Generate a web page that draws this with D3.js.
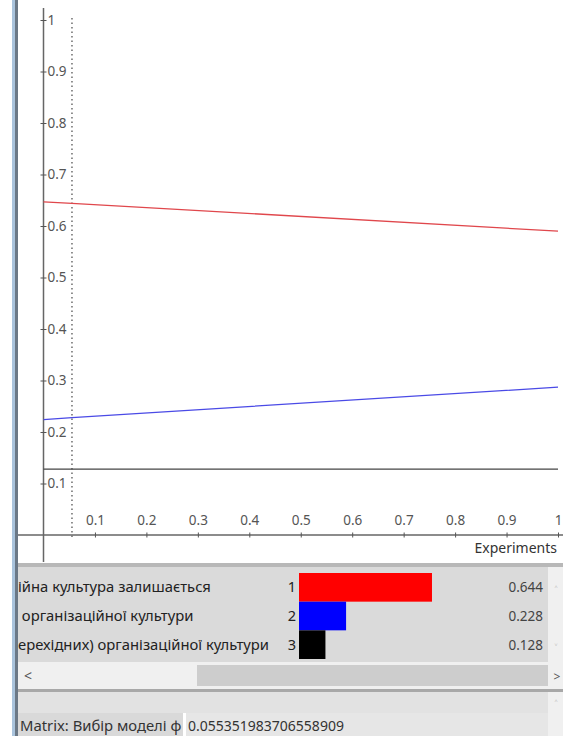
<!DOCTYPE html>
<html><head><meta charset="utf-8">
<script src="https://cdn.jsdelivr.net/npm/d3@7"></script>
<style>html,body{margin:0;padding:0;background:#fff;overflow:hidden}svg{display:block}</style>
</head><body>
<svg id="c" width="563" height="736"></svg>
<script>
// ---- data ----
const lineX = [0, 0.0553519837, 1];
const redSeries = [0.647, 0.644, 0.590];
const blueSeries = [0.224, 0.228, 0.287];
const blackSeries = [0.128, 0.128, 0.128];
const xTicks = [0.1, 0.2, 0.3, 0.4, 0.5, 0.6, 0.7, 0.8, 0.9, 1];
const xTickLabels = ["0.1","0.2","0.3","0.4","0.5","0.6","0.7","0.8","0.9","1"];
const yTicks = [0.1, 0.2, 0.3, 0.4, 0.5, 0.6, 0.7, 0.8, 0.9, 1];
const yTickLabels = ["0.1","0.2","0.3","0.4","0.5","0.6","0.7","0.8","0.9","1"];
const currentX = 0.0553519837;
const categories = ["ійна культура залишається", " організаційної культури", "ерехідних) організаційної культури"];
const ranks = ["1", "2", "3"];
const values = [0.644, 0.228, 0.128];
const valueLabels = ["0.644", "0.228", "0.128"];
const barColors = ["#ff0000", "#0000ff", "#000000"];
const matrixLabel = "Matrix: Вибір моделі ф";
const matrixValue = "0.055351983706558909";

// ---- drawing ----
const svg = d3.select("#c");
const FONT = "'Noto Sans', 'Open Sans', sans-serif";

svg.append("rect").attr("x",0).attr("y",0).attr("width",563).attr("height",736).attr("fill","#fff");

const x = d3.scaleLinear().domain([0,1]).range([43.5, 558]);
const y = d3.scaleLinear().domain([0,1]).range([535, 20]);

// dotted current line
svg.append("line").attr("x1",x(currentX)).attr("x2",x(currentX)).attr("y1",18).attr("y2",540)
  .attr("stroke","#555").attr("stroke-width",1.3).attr("stroke-dasharray","1.5,3");

// axis lines
svg.append("line").attr("x1",x(0)).attr("x2",x(0)).attr("y1",8).attr("y2",562).attr("stroke","#666").attr("stroke-width",1.5);
svg.append("line").attr("x1",17).attr("x2",563).attr("y1",y(0)).attr("y2",y(0)).attr("stroke","#666").attr("stroke-width",1.5);

// y axis
const yAxis = svg.append("g").attr("transform",`translate(${x(0)},0)`)
  .call(d3.axisRight(y).tickValues(yTicks).tickFormat((d,i)=>yTickLabels[i]).tickSize(3).tickPadding(1));
yAxis.select(".domain").remove();
yAxis.selectAll(".tick line").attr("x1",-3).attr("x2",3).attr("stroke","#555");
yAxis.selectAll(".tick text").attr("font-family",FONT).attr("font-size",13.5).attr("fill","#555");

// x axis (labels above axis)
const xAxis = svg.append("g").attr("transform",`translate(0,${y(0)})`)
  .call(d3.axisTop(x).tickValues(xTicks).tickFormat((d,i)=>xTickLabels[i]).tickSize(3).tickPadding(7));
xAxis.select(".domain").remove();
xAxis.selectAll(".tick line").attr("y1",-2.5).attr("y2",2.5).attr("stroke","#555");
xAxis.selectAll(".tick text").attr("font-family",FONT).attr("font-size",13.5).attr("fill","#555");

svg.append("text").attr("x",557).attr("y",553).attr("text-anchor","end")
  .attr("font-family",FONT).attr("font-size",14).attr("fill","#333").text("Experiments");

// series lines
const line = d3.line().x((d,i)=>x(lineX[i])).y(d=>y(d));
[[redSeries,"#e0474c"],[blueSeries,"#4a4ae6"],[blackSeries,"#444"]].forEach(([s,c])=>{
  svg.append("path").datum(s).attr("d",line).attr("fill","none").attr("stroke",c).attr("stroke-width",1.3);
});

// ---- lower panels ----
svg.append("rect").attr("x",18).attr("y",563).attr("width",545).attr("height",4).attr("fill","#b8b8b8");
svg.append("rect").attr("x",18).attr("y",567).attr("width",530).attr("height",95).attr("fill","#dadada");
svg.append("rect").attr("x",548).attr("y",567).attr("width",15).attr("height",95).attr("fill","#f0f0f0");
svg.append("text").attr("x",556).attr("y",594).attr("text-anchor","middle").attr("font-family",FONT).attr("font-size",11).attr("fill","#bbb").text("˄");
svg.append("text").attr("x",556).attr("y",652).attr("text-anchor","middle").attr("font-family",FONT).attr("font-size",11).attr("fill","#bbb").text("˅");

const rowY = d3.scaleBand().domain(d3.range(categories.length)).range([573, 659]);
const barX = d3.scaleLinear().domain([0,1]).range([299, 505.5]);
const rows = svg.append("g");
rows.selectAll("rect.bar").data(values).join("rect").attr("class","bar")
  .attr("x",barX(0)).attr("y",(d,i)=>rowY(i)).attr("width",d=>barX(d)-barX(0)).attr("height",rowY.bandwidth())
  .attr("fill",(d,i)=>barColors[i]);
rows.selectAll("text.cat").data(categories).join("text").attr("class","cat")
  .attr("x",18).attr("y",(d,i)=>rowY(i)+rowY.bandwidth()/2+5).attr("xml:space","preserve")
  .attr("font-family",FONT).attr("font-size",14.8).attr("fill","#222").text(d=>d);
rows.selectAll("text.rank").data(ranks).join("text").attr("class","rank")
  .attr("x",296).attr("y",(d,i)=>rowY(i)+rowY.bandwidth()/2+5).attr("text-anchor","end")
  .attr("font-family",FONT).attr("font-size",14.5).attr("fill","#222").text(d=>d);
rows.selectAll("text.val").data(valueLabels).join("text").attr("class","val")
  .attr("x",543).attr("y",(d,i)=>rowY(i)+rowY.bandwidth()/2+5).attr("text-anchor","end")
  .attr("font-family",FONT).attr("font-size",13.5).attr("fill","#444").text(d=>d);

// horizontal scrollbar
svg.append("rect").attr("x",18).attr("y",662).attr("width",545).attr("height",27).attr("fill","#f0f0f0");
svg.append("rect").attr("x",197).attr("y",665).attr("width",351).attr("height",21).attr("fill","#cdcdcd");
svg.append("text").attr("x",28).attr("y",681).attr("text-anchor","middle").attr("font-family",FONT).attr("font-size",14).attr("fill","#555").text("<");
svg.append("text").attr("x",557).attr("y",681).attr("text-anchor","middle").attr("font-family",FONT).attr("font-size",12).attr("fill","#555").text(">");

svg.append("rect").attr("x",18).attr("y",689).attr("width",545).attr("height",3).attr("fill","#a8a8a8");
svg.append("rect").attr("x",18).attr("y",692).attr("width",530).attr("height",21).attr("fill","#e2e2e2");
svg.append("rect").attr("x",548).attr("y",692).attr("width",15).attr("height",44).attr("fill","#f0f0f0");
svg.append("text").attr("x",556).attr("y",708).attr("text-anchor","middle").attr("font-family",FONT).attr("font-size",11).attr("fill","#bbb").text("˄");

svg.append("rect").attr("x",18).attr("y",713).attr("width",165).attr("height",23).attr("fill","#d9d9d9");
svg.append("rect").attr("x",186).attr("y",713).attr("width",362).attr("height",23).attr("fill","#e6e6e6");
svg.append("text").attr("x",20).attr("y",731).attr("font-family",FONT).attr("font-size",14.8).attr("fill","#333").text(matrixLabel);
svg.append("text").attr("x",188).attr("y",731).attr("font-family",FONT).attr("font-size",14).attr("fill","#333").text(matrixValue);

// left window border
svg.append("rect").attr("x",12).attr("y",0).attr("width",3).attr("height",736).attr("fill","#aac4dd");
svg.append("rect").attr("x",15).attr("y",0).attr("width",3).attr("height",736).attr("fill","#6b7886");
</script>
</body></html>
